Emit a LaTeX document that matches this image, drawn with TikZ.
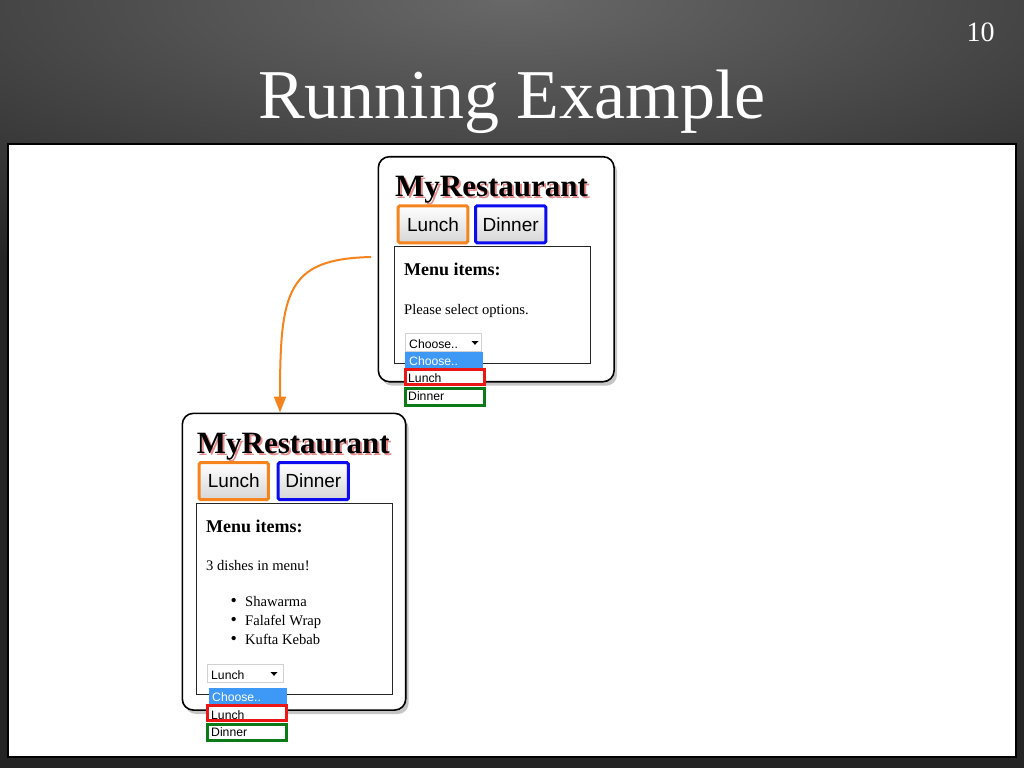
\documentclass[tikz,border=0pt]{standalone}
\usepackage{fontspec}
\setmainfont{Liberation Serif}
\newfontfamily\arialfont{Liberation Sans}
\usetikzlibrary{arrows.meta,shadows,calc}

\definecolor{bgmid}{RGB}{104,104,104}
\definecolor{bgside}{RGB}{36,36,36}
\definecolor{lunchorange}{RGB}{245,132,30}
\definecolor{dinnerblue}{RGB}{12,12,238}
\definecolor{optred}{RGB}{236,22,22}
\definecolor{optgreen}{RGB}{12,122,22}
\definecolor{selblue}{RGB}{62,152,246}
\definecolor{glowred}{RGB}{230,140,140}

\tikzset{
  card/.style={draw=black, line width=1.6pt, rounded corners=11pt, fill=white,
    drop shadow={shadow xshift=3pt, shadow yshift=-4pt, opacity=0.45}},
  btn/.style={line width=3pt, rounded corners=1.5pt, top color=white, bottom color=black!16,
    minimum height=37, font=\arialfont\fontsize{19}{22}\selectfont, inner sep=0pt},
  sitetitle/.style={anchor=base west, inner sep=0pt, font=\bfseries\fontsize{31}{36}\selectfont},
  menuhead/.style={anchor=base west, inner sep=0pt, font=\bfseries\fontsize{18}{21}\selectfont},
  bodytext/.style={anchor=base west, inner sep=0pt, font=\fontsize{14.6}{17}\selectfont},
  dot/.style={anchor=base west, inner sep=0pt, font=\fontsize{18}{18}\selectfont},
  opttext/.style={anchor=base west, inner sep=0pt, font=\arialfont\fontsize{12.2}{14}\selectfont},
  menubox/.style={draw=black!85, line width=1pt},
  dropbox/.style={draw=black!18, line width=1pt, fill=white},
}

\begin{document}
\begin{tikzpicture}[x=1pt,y=1pt,yscale=-1]
\useasboundingbox (0,0) rectangle (1024,768);
\begin{scope}
\clip (0,0) rectangle (1024,768);
\fill[bgside] (0,0) rectangle (1024,768);
\shade[inner color=bgmid, outer color=bgside] (512,0) ellipse [x radius=1000, y radius=300];
\end{scope}

% slide title and number
\node[anchor=base, inner sep=0pt, text=white, font=\fontsize{70}{80}\selectfont] (title) at (512,118.3) {Running Example};
\node[anchor=base, inner sep=0pt, text=white, font=\fontsize{28}{32}\selectfont] (slideno) at (980.5,41.7) {10};

% white panel
\draw[line width=2pt, fill=white] (8,144) rectangle (1016,757);

% top card: before the choice
\node[card, minimum width=235.7, minimum height=225] (topcard) at (496.2,269.2) {};
\node[sitetitle, text=glowred] (toptitleglow) at (397,198.7) {MyRestaurant};
\node[sitetitle] (toptitle) at (395,196.7) {MyRestaurant};
\node[btn, draw=lunchorange, minimum width=69.6] (toplunch) at (433,224.3) {Lunch};
\node[btn, draw=dinnerblue, minimum width=70.3] (topdinner) at (510.7,224.3) {Dinner};
\draw[menubox] (394,246.7) rectangle (590,363.3);
\node[menuhead] (topmenu) at (404,275) {Menu items:};
\node[bodytext] (topplease) at (404,314) {Please select options.};
\draw[dropbox] (405,333.3) rectangle (481.7,351.7);
\node[opttext] (topselect) at (409,348) {Choose..};
\fill (471.5,341) -- (478.5,341) -- (475,344.8) -- cycle;
\fill[selblue] (405,351.7) rectangle (483.3,368.3);
\node[opttext, text=white] (topchoose) at (409,365) {Choose..};
\draw[optred, line width=3pt, fill=white] (405.5,369.2) rectangle (484.5,384.5);
\node[opttext] (topoptlunch) at (408,382.5) {Lunch};
\draw[optgreen, line width=3pt, fill=white] (405.5,388.2) rectangle (484.5,405.2);
\node[opttext] (topoptdinner) at (408,400.7) {Dinner};

% bottom card: after choosing lunch
\node[card, minimum width=223.4, minimum height=296.7] (botcard) at (294,561.7) {};
\node[sitetitle, text=glowred] (bottitleglow) at (198.7,455) {MyRestaurant};
\node[sitetitle] (bottitle) at (196.7,453) {MyRestaurant};
\node[btn, draw=lunchorange, minimum width=69.3] (botlunch) at (233.8,481.2) {Lunch};
\node[btn, draw=dinnerblue, minimum width=70.3] (botdinner) at (313.3,481.2) {Dinner};
\draw[menubox] (196,503.3) rectangle (392.3,694);
\node[menuhead] (botmenu) at (206,532.7) {Menu items:};
\node[bodytext] (botdishes) at (206,570.7) {3 dishes in menu!};
\node[dot] (dotone) at (230.5,606) {\textbullet};
\node[bodytext] (dishone) at (245,606) {Shawarma};
\node[dot] (dottwo) at (230.5,625.7) {\textbullet};
\node[bodytext] (dishtwo) at (245,625.7) {Falafel Wrap};
\node[dot] (dotthree) at (230.5,644.3) {\textbullet};
\node[bodytext] (dishthree) at (245,644.3) {Kufta Kebab};
\draw[dropbox] (207.3,664.3) rectangle (283.7,682.7);
\node[opttext] (botselect) at (211,679) {Lunch};
\fill (270.5,672) -- (277.5,672) -- (274,675.8) -- cycle;
\fill[selblue] (209,688.3) rectangle (286.7,704);
\node[opttext, text=white] (botchoose) at (212,701.7) {Choose..};
\draw[optred, line width=3pt, fill=white] (207.5,705.5) rectangle (286.8,720.2);
\node[opttext] (botoptlunch) at (211,719.3) {Lunch};
\draw[optgreen, line width=3pt, fill=white] (207.5,724.8) rectangle (286.8,740.8);
\node[opttext] (botoptdinner) at (211,736.7) {Dinner};

% transition arrow
\coordinate (arrowstart) at (371,257);
\draw[lunchorange, line width=2pt, -{Triangle[length=16pt,width=12pt]}]
  (arrowstart) .. controls +(-84,2) and +(0,-122) .. ($(botcard.north)+(-14,0)$);
\end{tikzpicture}
\end{document}
